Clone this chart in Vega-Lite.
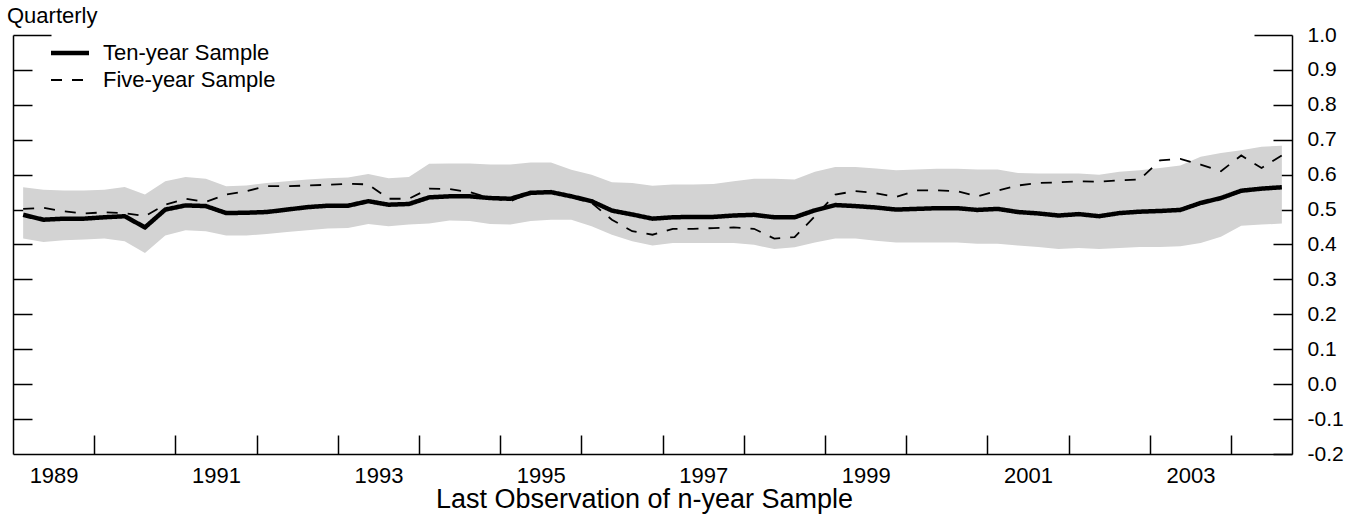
{
  "$schema": "https://vega.github.io/schema/vega-lite/v6.json",
  "width": 1279,
  "height": 419,
  "autosize": {"type": "none"},
  "padding": {"left": 13, "top": 35, "right": 68, "bottom": 62},
  "background": "white",
  "title": {"text": "Quarterly", "anchor": "start", "frame": "group", "dx": -6, "offset": -4, "fontSize": 22, "font": "Liberation Sans", "fontWeight": "normal", "color": "black"},
  "config": {
    "view": {"stroke": null},
    "font": "Liberation Sans",
    "axis": {"grid": false, "domainColor": "black", "domainWidth": 1.5, "tickColor": "black", "tickWidth": 1.5, "labelColor": "black", "labelFont": "Liberation Sans", "labelFontSize": 22, "titleFont": "Liberation Sans", "titleColor": "black", "titleFontWeight": "normal"}
  },
  "data": {"values": [
    {"t": 1989.125, "ten": 0.485, "five": 0.502, "lo": 0.417, "hi": 0.564},
    {"t": 1989.375, "ten": 0.471, "five": 0.505, "lo": 0.407, "hi": 0.557},
    {"t": 1989.625, "ten": 0.474, "five": 0.495, "lo": 0.412, "hi": 0.555},
    {"t": 1989.875, "ten": 0.474, "five": 0.489, "lo": 0.414, "hi": 0.555},
    {"t": 1990.125, "ten": 0.478, "five": 0.492, "lo": 0.417, "hi": 0.557},
    {"t": 1990.375, "ten": 0.481, "five": 0.490, "lo": 0.409, "hi": 0.565},
    {"t": 1990.625, "ten": 0.449, "five": 0.481, "lo": 0.376, "hi": 0.543},
    {"t": 1990.875, "ten": 0.500, "five": 0.514, "lo": 0.426, "hi": 0.581},
    {"t": 1991.125, "ten": 0.512, "five": 0.531, "lo": 0.441, "hi": 0.593},
    {"t": 1991.375, "ten": 0.510, "five": 0.522, "lo": 0.438, "hi": 0.588},
    {"t": 1991.625, "ten": 0.490, "five": 0.543, "lo": 0.426, "hi": 0.567},
    {"t": 1991.875, "ten": 0.491, "five": 0.553, "lo": 0.426, "hi": 0.569},
    {"t": 1992.125, "ten": 0.493, "five": 0.567, "lo": 0.430, "hi": 0.576},
    {"t": 1992.375, "ten": 0.500, "five": 0.567, "lo": 0.436, "hi": 0.581},
    {"t": 1992.625, "ten": 0.507, "five": 0.569, "lo": 0.441, "hi": 0.586},
    {"t": 1992.875, "ten": 0.511, "five": 0.571, "lo": 0.446, "hi": 0.590},
    {"t": 1993.125, "ten": 0.511, "five": 0.574, "lo": 0.447, "hi": 0.592},
    {"t": 1993.375, "ten": 0.524, "five": 0.572, "lo": 0.459, "hi": 0.602},
    {"t": 1993.625, "ten": 0.514, "five": 0.531, "lo": 0.452, "hi": 0.590},
    {"t": 1993.875, "ten": 0.516, "five": 0.531, "lo": 0.457, "hi": 0.593},
    {"t": 1994.125, "ten": 0.535, "five": 0.560, "lo": 0.460, "hi": 0.631},
    {"t": 1994.375, "ten": 0.538, "five": 0.559, "lo": 0.469, "hi": 0.632},
    {"t": 1994.625, "ten": 0.538, "five": 0.550, "lo": 0.467, "hi": 0.632},
    {"t": 1994.875, "ten": 0.533, "five": 0.533, "lo": 0.459, "hi": 0.629},
    {"t": 1995.125, "ten": 0.531, "five": 0.524, "lo": 0.457, "hi": 0.629},
    {"t": 1995.375, "ten": 0.548, "five": 0.548, "lo": 0.467, "hi": 0.635},
    {"t": 1995.625, "ten": 0.550, "five": 0.550, "lo": 0.471, "hi": 0.635},
    {"t": 1995.875, "ten": 0.538, "five": 0.536, "lo": 0.471, "hi": 0.614},
    {"t": 1996.125, "ten": 0.524, "five": 0.519, "lo": 0.452, "hi": 0.600},
    {"t": 1996.375, "ten": 0.497, "five": 0.471, "lo": 0.428, "hi": 0.578},
    {"t": 1996.625, "ten": 0.486, "five": 0.438, "lo": 0.409, "hi": 0.576},
    {"t": 1996.875, "ten": 0.474, "five": 0.428, "lo": 0.397, "hi": 0.568},
    {"t": 1997.125, "ten": 0.478, "five": 0.445, "lo": 0.404, "hi": 0.572},
    {"t": 1997.375, "ten": 0.479, "five": 0.445, "lo": 0.404, "hi": 0.572},
    {"t": 1997.625, "ten": 0.479, "five": 0.447, "lo": 0.404, "hi": 0.573},
    {"t": 1997.875, "ten": 0.483, "five": 0.449, "lo": 0.404, "hi": 0.581},
    {"t": 1998.125, "ten": 0.485, "five": 0.445, "lo": 0.399, "hi": 0.588},
    {"t": 1998.375, "ten": 0.478, "five": 0.417, "lo": 0.387, "hi": 0.588},
    {"t": 1998.625, "ten": 0.478, "five": 0.421, "lo": 0.392, "hi": 0.586},
    {"t": 1998.875, "ten": 0.498, "five": 0.481, "lo": 0.406, "hi": 0.608},
    {"t": 1999.125, "ten": 0.513, "five": 0.543, "lo": 0.417, "hi": 0.622},
    {"t": 1999.375, "ten": 0.510, "five": 0.553, "lo": 0.417, "hi": 0.622},
    {"t": 1999.625, "ten": 0.506, "five": 0.547, "lo": 0.411, "hi": 0.618},
    {"t": 1999.875, "ten": 0.500, "five": 0.536, "lo": 0.406, "hi": 0.613},
    {"t": 2000.125, "ten": 0.502, "five": 0.555, "lo": 0.406, "hi": 0.615},
    {"t": 2000.375, "ten": 0.504, "five": 0.555, "lo": 0.406, "hi": 0.617},
    {"t": 2000.625, "ten": 0.504, "five": 0.553, "lo": 0.406, "hi": 0.617},
    {"t": 2000.875, "ten": 0.499, "five": 0.538, "lo": 0.402, "hi": 0.615},
    {"t": 2001.125, "ten": 0.502, "five": 0.554, "lo": 0.402, "hi": 0.615},
    {"t": 2001.375, "ten": 0.493, "five": 0.569, "lo": 0.397, "hi": 0.605},
    {"t": 2001.625, "ten": 0.489, "five": 0.576, "lo": 0.393, "hi": 0.603},
    {"t": 2001.875, "ten": 0.483, "five": 0.578, "lo": 0.387, "hi": 0.603},
    {"t": 2002.125, "ten": 0.487, "five": 0.581, "lo": 0.390, "hi": 0.603},
    {"t": 2002.375, "ten": 0.481, "five": 0.580, "lo": 0.387, "hi": 0.600},
    {"t": 2002.625, "ten": 0.490, "five": 0.584, "lo": 0.390, "hi": 0.608},
    {"t": 2002.875, "ten": 0.494, "five": 0.586, "lo": 0.393, "hi": 0.613},
    {"t": 2003.125, "ten": 0.496, "five": 0.641, "lo": 0.393, "hi": 0.619},
    {"t": 2003.375, "ten": 0.499, "five": 0.645, "lo": 0.395, "hi": 0.626},
    {"t": 2003.625, "ten": 0.519, "five": 0.629, "lo": 0.404, "hi": 0.651},
    {"t": 2003.875, "ten": 0.533, "five": 0.610, "lo": 0.422, "hi": 0.662},
    {"t": 2004.125, "ten": 0.554, "five": 0.655, "lo": 0.454, "hi": 0.670},
    {"t": 2004.375, "ten": 0.560, "five": 0.619, "lo": 0.457, "hi": 0.680},
    {"t": 2004.625, "ten": 0.564, "five": 0.655, "lo": 0.460, "hi": 0.683}
  ]},
  "encoding": {
    "x": {
      "field": "t", "type": "quantitative",
      "scale": {"domain": [1989, 2004.75], "nice": false, "zero": false},
      "axis": {
        "orient": "bottom", "title": "Last Observation of n-year Sample", "titleFontSize": 27, "titlePadding": 0, "titleX": 631,
        "values": [1989.5, 1990, 1991, 1991.5, 1992, 1993, 1993.5, 1994, 1995, 1995.5, 1996, 1997, 1997.5, 1998, 1999, 1999.5, 2000, 2001, 2001.5, 2002, 2003, 2003.5, 2004],
        "labelExpr": "datum.value % 1 ? '' + floor(datum.value) : ''",
        "labelOverlap": false, "labelFlush": false, "labelBound": false,
        "tickSize": -19, "labelPadding": 30,
        "tickOpacity": {"condition": {"test": "datum.value % 1 === 0", "value": 1}, "value": 0}
      }
    }
  },
  "layer": [
    {
      "mark": {"type": "area", "color": "#d3d3d3", "opacity": 1},
      "encoding": {
        "y": {"field": "lo", "type": "quantitative", "scale": {"domain": [-0.2, 1.0], "nice": false, "zero": false},
          "axis": {"orient": "right", "title": null, "values": [-0.2, -0.1, 0, 0.1, 0.2, 0.3, 0.4, 0.5, 0.6, 0.7, 0.8, 0.9, 1.0],
            "labelExpr": "replace(format(datum.value, '.1f'), '\u2212', '-')", "labelFontSize": 21,
            "tickSize": {"condition": {"test": "datum.value === 1", "value": -38}, "value": -19},
            "labelPadding": {"condition": {"test": "datum.value === 1", "value": 53}, "value": 34}}},
        "y2": {"field": "hi"}
      }
    },
    {
      "data": {"values": [{"z": 0}]},
      "mark": {"type": "rule", "color": "black", "strokeWidth": 1.5},
      "encoding": {"y": {"field": "z", "type": "quantitative", "axis": null}}
    },
    {
      "transform": [{"fold": ["ten", "five"], "as": ["key", "value"]}, {"lookup": "key", "from": {"data": {"values": [{"key": "ten", "series": "Ten-year Sample"}, {"key": "five", "series": "Five-year Sample"}]}, "key": "key", "fields": ["series"]}}],
      "mark": {"type": "line", "color": "black"},
      "encoding": {
        "y": {"field": "value", "type": "quantitative",
          "axis": {"orient": "left", "title": null, "labels": false, "values": [-0.1, 0, 0.1, 0.2, 0.3, 0.4, 0.5, 0.6, 0.7, 0.8, 0.9, 1.0],
            "tickSize": {"condition": {"test": "datum.value === 1", "value": -38}, "value": -19}}},
        "detail": {"field": "series"},
        "strokeDash": {"field": "series", "type": "nominal", "scale": {"domain": ["Ten-year Sample", "Five-year Sample"], "range": [[1, 0], [11, 10]]},
          "legend": {"title": null, "orient": "none", "legendX": 45, "legendY": 6, "padding": 0, "symbolType": "M-2,0H2", "symbolSize": 361, "symbolStrokeColor": "black", "labelFontSize": 22, "labelFont": "Liberation Sans", "labelColor": "black", "labelOffset": 21, "labelLimit": 0, "rowPadding": 5}},
        "strokeWidth": {"field": "series", "type": "ordinal", "scale": {"domain": ["Ten-year Sample", "Five-year Sample"], "range": [4.5, 1.8]},
          "legend": {"title": null, "orient": "none", "legendX": 45, "legendY": 6, "padding": 0, "symbolType": "M-2,0H2", "symbolSize": 361, "symbolStrokeColor": "black", "labelFontSize": 22, "labelFont": "Liberation Sans", "labelColor": "black", "labelOffset": 21, "labelLimit": 0, "rowPadding": 5}}
      }
    }
  ],
  "resolve": {"axis": {"y": "independent"}}
}
